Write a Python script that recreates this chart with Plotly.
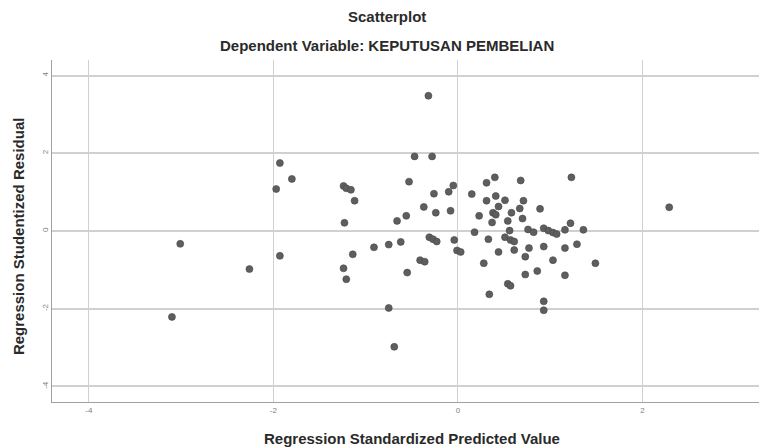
import plotly.graph_objects as go

# Regression Standardized Predicted Value (x) and Studentized Residual (y)
pred = [-3.10, -3.01, -2.26, -1.93, -1.97, -1.80, -1.93,
        -0.32, -0.47, -0.28, -0.53, -1.24, -1.21, -1.16, -1.12, -0.26, -0.10, -0.05,
        0.15, 0.31, 0.31, -0.37, -0.24, -0.08, -0.56, -0.66, 0.23, -1.23, 0.18,
        -0.31, -0.27, -0.23, -0.04, -0.01, 0.03, 0.33, -0.62, -0.75, -0.91, -1.14,
        -0.41, -0.36, 0.28, -1.24, -1.21, -0.55, 0.34, -0.75, -0.69,
        0.40, 0.68, 1.23, 0.41, 0.51, 0.71, 0.44, 0.67, 0.89, 0.38, 0.41, 0.58,
        0.54, 0.70, 0.37, 1.22, 0.56, 0.76, 0.82, 0.93, 0.98, 1.03, 1.07, 1.16,
        1.36, 0.51, 0.57, 0.61, 1.29, 0.44, 0.61, 0.77, 0.93, 1.16, 0.73, 1.03,
        1.49, 0.73, 0.86, 1.16, 0.54, 0.57, 0.93, 0.93, 2.29]
resid = [-2.21, -0.33, -0.98, 1.75, 1.08, 1.34, -0.64,
         3.48, 1.92, 1.92, 1.27, 1.16, 1.10, 1.06, 0.78, 0.96, 1.01, 1.17,
         0.95, 1.24, 0.78, 0.62, 0.47, 0.52, 0.39, 0.26, 0.39, 0.21, -0.03,
         -0.16, -0.21, -0.27, -0.23, -0.50, -0.54, -0.21, -0.28, -0.35, -0.42, -0.60,
         -0.75, -0.79, -0.83, -0.96, -1.24, -1.07, -1.63, -1.98, -2.98,
         1.38, 1.30, 1.38, 0.90, 0.79, 0.78, 0.63, 0.58, 0.57, 0.47, 0.42, 0.47,
         0.26, 0.32, 0.22, 0.20, 0.01, 0.04, -0.03, 0.07, 0.01, -0.04, -0.08, 0.03,
         0.03, -0.16, -0.23, -0.27, -0.34, -0.54, -0.49, -0.44, -0.40, -0.44, -0.66, -0.75,
         -0.83, -1.12, -1.03, -1.14, -1.36, -1.41, -1.81, -2.04, 0.61]

title_main = "Scatterplot"
title_sub = "Dependent Variable: KEPUTUSAN PEMBELIAN"
x_title = "Regression Standardized Predicted Value"
y_title = "Regression Studentized Residual"
tick_vals = [-4, -2, 0, 2, 4]

fig = go.Figure()
fig.add_trace(go.Scatter(
    x=pred, y=resid, mode="markers",
    marker=dict(size=7, color="#5e5e5e", line=dict(width=0.6, color="#484848")),
    hoverinfo="x+y", showlegend=False,
))

font_family = "Liberation Sans, Arial, sans-serif"
text_font = dict(size=15, color="#2a2a2a", family=font_family)

# the page body adds an 8px margin, so the figure is sized 8px smaller
fig.update_layout(
    width=759, height=440,
    margin=dict(l=44, r=0, t=52, b=46),
    paper_bgcolor="white", plot_bgcolor="white",
    font=dict(family=font_family, color="#222222"),
    xaxis=dict(
        range=[-4.4, 3.35], tickvals=tick_vals, ticktext=[str(v) for v in tick_vals],
        showgrid=True, gridcolor="#d0d0d0", gridwidth=1,
        zeroline=False, showline=True, linecolor="#a0a0a0", linewidth=1,
        tickfont=dict(size=8, color="#808080"), ticks="",
    ),
    yaxis=dict(
        range=[-4.4, 4.4], tickvals=tick_vals, ticktext=[str(v) for v in tick_vals],
        showgrid=True, gridcolor="#d0d0d0", gridwidth=1.5,
        zeroline=False, showline=True, linecolor="#a0a0a0", linewidth=1,
        tickfont=dict(size=8, color="#808080"), tickangle=-90, ticks="",
    ),
    annotations=[
        dict(text="<b>" + title_main + "</b>", x=0.469, y=1.126, xref="paper", yref="paper",
             showarrow=False, font=text_font, xanchor="center", yanchor="middle"),
        dict(text="<b>" + title_sub + "</b>", x=0.469, y=1.041, xref="paper", yref="paper",
             showarrow=False, font=text_font, xanchor="center", yanchor="middle"),
        dict(text="<b>" + x_title + "</b>", x=0.503, y=-0.108, xref="paper", yref="paper",
             showarrow=False, font=text_font, xanchor="center", yanchor="middle"),
        dict(text="<b>" + y_title + "</b>", x=-0.0476, y=0.485, xref="paper", yref="paper",
             textangle=-90, showarrow=False, font=text_font,
             xanchor="center", yanchor="middle"),
    ],
)

fig.write_html("out.html")
